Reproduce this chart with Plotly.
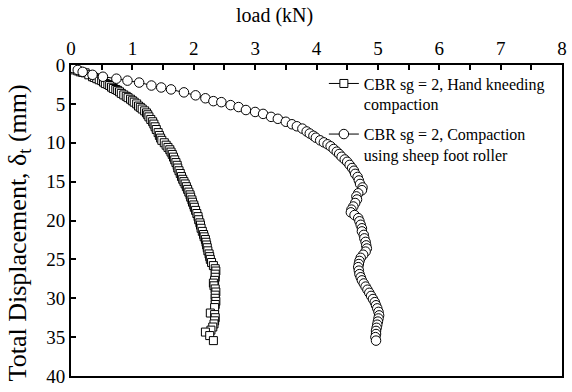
import plotly.graph_objects as go

# Hand kneading compaction: load (kN) vs total displacement (mm)
hand_load = [0, 0.03, 0.06, 0.11, 0.15, 0.19, 0.23, 0.29, 0.35, 0.38, 0.42, 0.46, 0.50, 0.53,
             0.56, 0.60, 0.63, 0.66, 0.69, 0.73, 0.76, 0.79, 0.82, 0.86, 0.90, 0.93, 0.97, 1.00,
             1.03, 1.07, 1.10, 1.13, 1.16, 1.20, 1.23, 1.25, 1.27, 1.30, 1.33, 1.35, 1.37, 1.39,
             1.42, 1.44, 1.46, 1.48, 1.52, 1.55, 1.58, 1.61, 1.63, 1.65, 1.67, 1.69, 1.71, 1.73,
             1.74, 1.76, 1.78, 1.80, 1.82, 1.84, 1.86, 1.88, 1.90, 1.92, 1.94, 1.95, 1.97, 1.98,
             2.00, 2.01, 2.03, 2.05, 2.07, 2.08, 2.10, 2.11, 2.12, 2.14, 2.16, 2.17, 2.19, 2.20,
             2.21, 2.22, 2.23, 2.25, 2.26, 2.27, 2.29, 2.32, 2.35, 2.36, 2.35, 2.35, 2.34, 2.32,
             2.33, 2.35, 2.36, 2.35, 2.35, 2.36, 2.35, 2.34, 2.27, 2.34, 2.35, 2.34, 2.33, 2.31,
             2.28, 2.19, 2.26, 2.32]
hand_disp = [0, 0.3, 0.63, 0.75, 0.88, 0.95, 1.01, 1.26, 1.51, 1.6, 1.76, 1.9, 2.01, 2.2,
             2.39, 2.5, 2.64, 2.85, 3.02, 3.15, 3.27, 3.45, 3.65, 3.85, 4.03, 4.2, 4.40, 4.6,
             4.78, 5.0, 5.28, 5.45, 5.66, 5.9, 6.16, 6.4, 6.67, 7.0, 7.3, 7.6, 7.95, 8.3,
             8.7, 9.06, 9.4, 9.69, 10.0, 10.31, 10.6, 10.9, 11.2, 11.5, 11.85, 12.2, 12.55, 12.9,
             13.25, 13.6, 13.95, 14.35, 14.7, 15.0, 15.3, 15.65, 16.0, 16.35, 16.7, 17.0, 17.35, 17.65,
             18.0, 18.3, 18.7, 19.1, 19.5, 19.9, 20.3, 20.6, 21.0, 21.4, 21.8, 22.1, 22.45, 22.8,
             23.15, 23.5, 23.9, 24.3, 24.65, 25.0, 25.4, 25.8, 26.2, 26.5, 26.9, 27.3, 27.7, 28.05,
             28.4, 28.8, 29.2, 29.6, 30.0, 30.4, 30.8, 31.2, 31.9, 32.1, 32.5, 32.9, 33.3, 33.7,
             34.1, 34.35, 34.8, 35.45]

# Sheep foot roller compaction
roller_load = [0, 0.03, 0.11, 0.19, 0.35, 0.52, 0.74, 0.92, 1.11, 1.31, 1.47, 1.63, 1.84, 2.03,
               2.19, 2.32, 2.45, 2.60, 2.73, 2.85, 3.00, 3.13, 3.26, 3.37, 3.50, 3.60, 3.68, 3.77,
               3.84, 3.89, 3.95, 3.99, 4.06, 4.12, 4.18, 4.23, 4.28, 4.33, 4.37, 4.41, 4.46, 4.50,
               4.54, 4.58, 4.61, 4.63, 4.67, 4.69, 4.71, 4.75, 4.74, 4.68, 4.65, 4.66, 4.63, 4.60,
               4.57, 4.56, 4.62, 4.68, 4.70, 4.72, 4.74, 4.74, 4.77, 4.78, 4.80, 4.81, 4.82, 4.80,
               4.76, 4.72, 4.70, 4.69, 4.68, 4.69, 4.70, 4.72, 4.74, 4.77, 4.80, 4.83, 4.86, 4.89,
               4.92, 4.95, 4.97, 4.99, 5.01, 5.02, 5.01, 5.00, 4.99, 4.98, 4.97, 4.97, 4.96, 4.97]
roller_disp = [0, 0.38, 0.63, 0.88, 1.26, 1.51, 1.76, 2.01, 2.26, 2.64, 2.89, 3.14, 3.52, 3.90,
               4.28, 4.65, 4.78, 5.16, 5.41, 5.79, 6.04, 6.29, 6.67, 6.92, 7.30, 7.62, 7.88, 8.18,
               8.55, 8.81, 9.10, 9.35, 9.69, 9.95, 10.2, 10.45, 10.8, 11.15, 11.45, 11.8, 12.15, 12.45,
               12.85, 13.25, 13.6, 14.0, 14.4, 14.85, 15.3, 15.75, 16.1, 16.5, 16.9, 17.3, 17.75, 18.2,
               18.6, 18.95, 19.3, 19.7, 20.1, 20.55, 21.0, 21.4, 21.85, 22.3, 22.75, 23.2, 23.6, 24.0,
               24.4, 24.8, 25.2, 25.6, 26.0, 26.45, 26.9, 27.3, 27.7, 28.1, 28.5, 28.9, 29.3, 29.7,
               30.1, 30.5, 30.9, 31.3, 31.75, 32.2, 32.6, 33.0, 33.4, 33.8, 34.2, 34.6, 35.0, 35.45]

series_names = ["CBR sg = 2, Hand kneeding<br>compaction",
                "CBR sg = 2, Compaction<br>using sheep foot roller"]

x_ticks = [0, 1, 2, 3, 4, 5, 6, 7, 8]
y_ticks = [0, 5, 10, 15, 20, 25, 30, 35, 40]

x_title = "load (kN)"
y_title = "Total Displacement, δ<sub>t</sub> (mm)"

FONT = "Liberation Serif"

fig = go.Figure()
fig.add_trace(go.Scatter(
    x=hand_load, y=hand_disp, mode="lines+markers", name=series_names[0],
    legendgroup="hand",
    line=dict(color="black", width=1),
    marker=dict(symbol="square", size=8, color="white", line=dict(color="black", width=1)),
))
fig.add_trace(go.Scatter(
    x=roller_load, y=roller_disp, mode="lines+markers", name=series_names[1],
    legendgroup="roller",
    line=dict(color="black", width=1),
    marker=dict(symbol="circle", size=9.5, color="white", line=dict(color="black", width=1)),
))

fig.update_layout(
    width=572, height=392,
    margin=dict(l=71, r=5, t=65, b=10),
    paper_bgcolor="white", plot_bgcolor="white",
    font=dict(family=FONT, size=19, color="black"),
    showlegend=True,
    legend=dict(
        x=0.515, y=0.995, xanchor="left", yanchor="top",
        bgcolor="rgba(0,0,0,0)", font=dict(family=FONT, size=16),
        itemwidth=30, valign="top", tracegroupgap=6,
    ),
    xaxis=dict(
        side="top", range=[0, 8], tickvals=x_ticks,
        ticks="inside", ticklen=5, tickwidth=2, tickcolor="black",
        minor=dict(dtick=0.5, ticks="inside", ticklen=5, tickwidth=2, tickcolor="black"),
        showline=True, linewidth=2, linecolor="black", mirror=True,
        showgrid=False, zeroline=False, ticklabeloverflow="allow",
    ),
    yaxis=dict(
        range=[40, 0], tickvals=y_ticks,
        ticks="inside", ticklen=5, tickwidth=2, tickcolor="black",
        showline=True, linewidth=2, linecolor="black", mirror=True,
        showgrid=False, zeroline=False, ticklabeloverflow="allow",
    ),
    annotations=[
        dict(text=x_title, xref="paper", yref="paper", x=0.415, y=1.158,
             xanchor="center", yanchor="middle", showarrow=False,
             font=dict(family=FONT, size=20)),
        dict(text=y_title, xref="paper", yref="paper", x=-0.107, y=0.46,
             xanchor="center", yanchor="middle", showarrow=False, textangle=-90,
             font=dict(family=FONT, size=26)),
    ],
)

fig.write_html("out.html")
